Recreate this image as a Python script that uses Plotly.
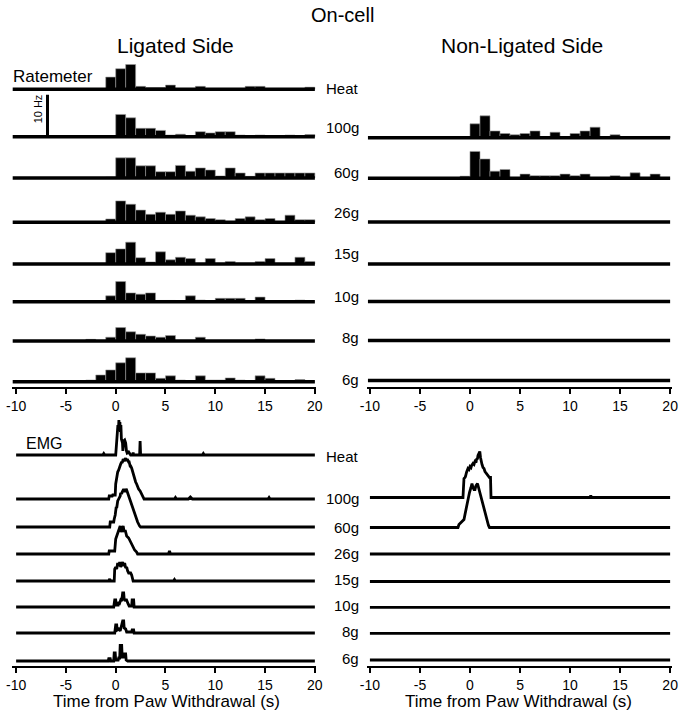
import plotly.graph_objects as go

W, H = 682, 719

# ---------------- data ----------------
bin_left_edges = list(range(-10, 20))          # 1-s ratemeter bins, -10 .. 20 s
tick_vals = [-10, -5, 0, 5, 10, 15, 20]
tick_text = ["-10", "-5", "0", "5", "10", "15", "20"]
stimuli = ["Heat", "100g", "60g", "26g", "15g", "10g", "8g", "6g"]

# Ratemeter (Hz) - ligated side
rate_lig_heat = [0, 0, 0, 0, 0, 0, 0, 0, 0, 2.9, 4.9, 5.9, 0.7, 0.4, 0.4, 1.0, 0, 0, 0.7, 0, 0, 0, 0, 0.7, 0.7, 0, 0, 0, 0, 0.5]
rate_lig_100g = [0, 0, 0, 0, 0, 0, 0, 0, 0, 0, 5.3, 4.5, 2.0, 2.0, 1.5, 0.4, 0.6, 0, 1.2, 0.9, 1.2, 1.2, 0.4, 0, 0.4, 0, 0, 0.4, 0, 0.5]
rate_lig_60g = [0, 0, 0, 0, 0, 0, 0, 0, 0, 0.2, 4.8, 4.8, 2.9, 2.9, 1.5, 1.5, 3.0, 1.6, 2.4, 1.9, 0.5, 2.4, 1.2, 0.4, 1.2, 1.2, 1.2, 1.2, 1.2, 1.2]
rate_lig_26g = [0, 0, 0, 0, 0, 0, 0, 0, 0, 0.8, 5.1, 4.3, 2.9, 1.9, 2.4, 1.9, 2.7, 1.7, 1.3, 0.9, 0.6, 0.2, 0.9, 1.3, 0.6, 0.9, 0.2, 1.7, 0.6, 0.6]
rate_lig_15g = [0, 0, 0, 0, 0, 0, 0, 0, 0, 2.7, 3.6, 5.2, 1.5, 0.5, 2.9, 1.0, 1.6, 1.3, 0, 1.3, 0, 0.6, 0, 0, 0.6, 1.3, 0, 0, 1.6, 0.6]
rate_lig_10g = [0, 0, 0, 0, 0, 0, 0, 0, 0, 1.4, 4.8, 2.1, 1.8, 2.1, 0.3, 0.3, 0, 1.4, 0.4, 0, 0.8, 0.8, 0.8, 0, 1.1, 0, 0, 0, 0.4, 0]
rate_lig_8g = [0, 0, 0, 0, 0, 0, 0, 0.4, 0, 0.9, 3.2, 2.2, 1.6, 1.2, 0.9, 1.3, 0, 0, 0.9, 0, 0, 0, 0, 0, 0.5, 0, 0, 0, 0, 0]
rate_lig_6g = [0, 0, 0, 0, 0, 0, 0, 0.4, 1.6, 2.8, 4.5, 5.7, 2.1, 2.1, 0.8, 1.4, 0.4, 0, 1.4, 0.4, 0.4, 0.9, 0.4, 0, 1.4, 0.8, 0, 0, 0.5, 0]

# Ratemeter (Hz) - non-ligated side (no heat row; 26g..6g silent)
rate_non_100g = [0, 0, 0, 0, 0, 0, 0, 0, 0, 0, 3.3, 5.2, 1.6, 1.0, 0.7, 1.0, 1.6, 0, 1.3, 0, 1.0, 1.6, 2.5, 0, 0.7, 0, 0, 0, 0.3, 0.3]
rate_non_60g = [0, 0, 0, 0, 0, 0, 0, 0, 0, 0.5, 6.4, 4.6, 1.7, 2.1, 0, 1.0, 0.6, 0.6, 0.6, 1.0, 0.6, 1.0, 0, 0, 0.6, 0, 1.3, 0, 1.0, 0]

scale_bar_hz = 10

# EMG envelopes (time s, amplitude a.u.) - ligated side
emg_lig_heat = [(-10, 0), (-1.3, 0), (-1.2, 1.5), (-1.1, 0), (0.0, 0), (0.07, 9), (0.12, 8), (0.17, 20),
                (0.22, 30), (0.27, 24), (0.32, 35), (0.37, 27), (0.42, 33), (0.47, 23), (0.52, 30), (0.57, 16),
                (0.62, 13), (0.68, 12), (0.72, 4), (0.8, 14), (0.9, 15), (1.0, 12), (1.08, 4), (1.15, 2),
                (1.3, 3), (1.4, 1), (1.5, 0), (1.7, 0), (1.75, 2.5), (1.8, 0), (2.4, 0), (2.45, 14), (2.5, 0),
                (8.7, 0), (8.8, 1.5), (8.9, 0), (20, 0)]
emg_lig_100g = [(-10, 0), (-0.7, 0), (-0.65, 3), (-0.35, 3), (-0.3, 4), (-0.05, 4), (0.0, 15), (0.1, 24),
                (0.15, 22), (0.2, 27), (0.3, 29), (0.35, 31), (0.45, 33), (0.5, 35), (0.6, 37), (0.65, 36),
                (0.75, 40), (0.85, 38), (0.9, 39), (1.0, 41), (1.05, 39), (1.2, 39), (1.3, 37), (1.35, 37),
                (1.45, 33), (1.5, 33), (1.6, 31), (1.7, 27), (1.75, 26), (1.85, 24), (2.0, 17), (2.1, 15),
                (2.2, 12), (2.3, 10), (2.45, 8), (2.6, 5), (2.75, 3), (2.85, 0), (5.9, 0), (6.0, 1.5),
                (6.1, 0), (7.3, 0), (7.5, 2), (7.7, 0), (15.3, 0), (15.4, 1.5), (15.5, 0), (20, 0)]
emg_lig_60g = [(-10, 0), (-0.6, 0), (-0.55, 5), (-0.2, 5), (-0.15, 8), (-0.05, 12), (0.05, 20), (0.1, 19),
               (0.2, 26), (0.3, 28), (0.35, 30), (0.45, 31), (0.5, 34), (0.6, 33), (0.65, 35), (0.75, 37),
               (0.8, 38), (0.9, 35), (0.95, 36), (1.05, 38), (1.1, 37), (1.2, 34), (1.25, 33), (1.4, 30),
               (1.55, 25), (1.7, 20), (1.85, 15), (2.0, 10), (2.2, 5), (2.4, 1), (2.5, 0), (20, 0)]
emg_lig_26g = [(-10, 0), (-0.7, 0), (-0.65, 3), (-0.1, 3), (0.0, 15), (0.15, 20), (0.3, 25), (0.45, 28),
               (0.55, 22), (0.65, 26), (0.75, 28), (0.85, 22), (0.95, 24), (1.1, 18), (1.3, 16), (1.5, 12),
               (1.7, 8), (1.9, 4), (2.1, 2), (2.2, 0), (5.3, 0), (5.4, 3), (5.5, 0), (20, 0)]
emg_lig_15g = [(-10, 0), (-0.7, 0), (-0.6, 2), (-0.5, 0), (-0.15, 0), (-0.1, 12), (0.0, 14), (0.1, 12),
               (0.2, 18), (0.3, 15), (0.4, 19), (0.5, 14), (0.6, 17), (0.7, 19), (0.8, 15), (0.9, 18),
               (1.0, 13), (1.1, 14), (1.2, 10), (1.3, 8), (1.5, 8), (1.6, 6), (1.75, 0), (5.8, 0),
               (5.9, 1.5), (6.0, 0), (20, 0)]
emg_lig_10g = [(-10, 0), (-0.2, 0), (-0.1, 7), (0.0, 7), (0.05, 2), (0.25, 2), (0.3, 5), (0.4, 4), (0.5, 7),
               (0.6, 6), (0.7, 14), (0.8, 14), (0.85, 8), (0.95, 6), (1.05, 8), (1.15, 4), (1.25, 3),
               (1.35, 1), (1.6, 1), (1.65, 7), (1.8, 7), (1.85, 0), (20, 0)]
emg_lig_8g = [(-10, 0), (-0.1, 0), (0.0, 8), (0.1, 8), (0.15, 3), (0.3, 4), (0.45, 2), (0.55, 6), (0.7, 12),
              (0.8, 12), (0.85, 5), (1.0, 4), (1.1, 1), (1.6, 1), (1.65, 3), (1.8, 3), (1.85, 0), (20, 0)]
emg_lig_6g = [(-10, 0), (-0.75, 0), (-0.7, 2.3), (-0.55, 2.3), (-0.5, 0), (-0.2, 0), (-0.15, 8), (-0.05, 8),
              (0.0, 1), (0.25, 1), (0.3, 3), (0.4, 3), (0.45, 15.5), (0.6, 15.5), (0.65, 4), (0.8, 4),
              (0.85, 7), (1.0, 7), (1.05, 1), (1.2, 0), (20, 0)]

# EMG envelopes - non-ligated side
emg_non_100g = [(-10, 0), (-0.7, 0), (-0.65, 10), (-0.6, 19), (-0.5, 20), (-0.45, 21), (-0.35, 25),
                (-0.3, 26), (-0.2, 29), (-0.1, 28), (0.0, 31), (0.1, 30), (0.16, 32), (0.3, 34), (0.4, 33),
                (0.5, 36), (0.6, 35), (0.65, 38), (0.75, 39), (0.8, 42), (0.9, 44), (0.98, 46), (1.05, 40),
                (1.14, 34), (1.2, 33), (1.3, 30), (1.4, 29), (1.5, 26), (1.65, 24), (1.8, 21), (1.95, 20),
                (2.05, 20), (2.1, 0), (12.0, 0), (12.07, 2), (12.15, 0), (20, 0)]
emg_non_60g = [(-10, 0), (-1.2, 0), (-1.1, 3), (-0.9, 5), (-0.75, 7), (-0.6, 8), (-0.5, 13), (-0.35, 21),
               (-0.2, 25), (-0.05, 35), (0.1, 40), (0.2, 44), (0.3, 40), (0.4, 38), (0.5, 38), (0.6, 42),
               (0.75, 44), (0.85, 40), (1.0, 33), (1.1, 30), (1.3, 22), (1.5, 16), (1.6, 10), (1.7, 5),
               (1.85, 2), (1.95, 0), (20, 0)]
emg_flat = [(-10, 0), (20, 0)]

rate_lig = [rate_lig_heat, rate_lig_100g, rate_lig_60g, rate_lig_26g, rate_lig_15g, rate_lig_10g, rate_lig_8g, rate_lig_6g]
rate_non = [None, rate_non_100g, rate_non_60g, None, None, None, None, None]
emg_lig = [emg_lig_heat, emg_lig_100g, emg_lig_60g, emg_lig_26g, emg_lig_15g, emg_lig_10g, emg_lig_8g, emg_lig_6g]
emg_non = [None, emg_non_100g, emg_non_60g, emg_flat, emg_flat, emg_flat, emg_flat, emg_flat]

# ---------------- layout constants (pixels) ----------------
RATE_TOP, RATE_BOT, PX_PER_HZ = 55, 387, 4.2
EMG_TOP, EMG_BOT = 405, 666
rate_base_lig = [89.3, 136.7, 178, 222.3, 264, 301.7, 341, 381.7]
rate_base_non = [None, 137.7, 178.3, 222, 264, 301.5, 340.5, 380.5]
emg_base_lig = [455, 499, 527, 554, 581, 607, 633, 661]
emg_base_non = [None, 497.5, 527.5, 554, 581.5, 607.3, 633.3, 660]
rate_label_y = [89, 128, 172, 212, 254, 296, 337, 379]
emg_label_y = [456, 498, 527, 553, 579.5, 605, 631, 658.5]

FONT = "Liberation Sans, Arial, Helvetica, sans-serif"

def px_x(x):
    return x / W

def px_y(y):
    return 1 - y / H

def x_domain(px_m10, px_20, lo, hi):
    pps = (px_20 - px_m10) / 30.0
    return [px_x(px_m10 + (lo + 10) * pps), px_x(px_m10 + (hi + 10) * pps)]

L_RANGE = [-10.4, 20.15]
R_RANGE = [-10.25, 20.15]
L_DOM = x_domain(8.3, 313.3, *L_RANGE)
R_DOM = x_domain(369.5, 676.0, *R_RANGE)

fig = go.Figure()

bin_centers = [b + 0.5 for b in bin_left_edges]

def add_rate_row(vals, base_px, xa, ya, x0):
    base = (RATE_BOT - base_px) / PX_PER_HZ
    if vals is not None:
        fig.add_trace(go.Bar(x=bin_centers, y=vals, base=base, width=1,
                             marker=dict(color="black", line=dict(color="#9a9a9a", width=0.6)),
                             xaxis=xa, yaxis=ya, showlegend=False, hoverinfo="skip"))
    fig.add_trace(go.Scatter(x=[x0, 20], y=[base, base], mode="lines",
                             line=dict(color="black", width=3.5),
                             xaxis=xa, yaxis=ya, showlegend=False, hoverinfo="skip"))

def add_emg_row(pairs, base_px, xa, ya):
    base = EMG_BOT - base_px
    fig.add_trace(go.Scatter(x=[p[0] for p in pairs], y=[base + p[1] for p in pairs], mode="lines",
                             line=dict(color="black", width=2.8),
                             xaxis=xa, yaxis=ya, showlegend=False, hoverinfo="skip"))

for i in range(8):
    add_rate_row(rate_lig[i], rate_base_lig[i], "x", "y", -10.35)
    if rate_base_non[i] is not None:
        add_rate_row(rate_non[i], rate_base_non[i], "x2", "y2", -10.2)
    add_emg_row(emg_lig[i], emg_base_lig[i], "x3", "y3")
    if emg_non[i] is not None:
        add_emg_row(emg_non[i], emg_base_non[i], "x4", "y4")

# 10 Hz scale bar
sb_base = (RATE_BOT - rate_base_lig[1]) / PX_PER_HZ
fig.add_trace(go.Scatter(x=[-6.85, -6.85], y=[sb_base, sb_base + scale_bar_hz], mode="lines",
                         line=dict(color="black", width=3), xaxis="x", yaxis="y",
                         showlegend=False, hoverinfo="skip"))

xcommon = dict(showline=True, linecolor="black", linewidth=1.5, ticks="outside", ticklen=5,
               tickwidth=1.5, tickcolor="black", tickvals=tick_vals, ticktext=tick_text,
               showgrid=False, zeroline=False,
               tickfont=dict(family=FONT, size=14, color="black"), fixedrange=True)
ycommon = dict(visible=False, showgrid=False, zeroline=False, fixedrange=True)

rate_ydom = [px_y(RATE_BOT), px_y(RATE_TOP)]
emg_ydom = [px_y(EMG_BOT), px_y(EMG_TOP)]
rate_yrange = [0, (RATE_BOT - RATE_TOP) / PX_PER_HZ]
emg_yrange = [0, EMG_BOT - EMG_TOP]

fig.update_layout(
    width=W, height=H, margin=dict(l=0, r=0, t=0, b=0),
    paper_bgcolor="white", plot_bgcolor="rgba(0,0,0,0)",
    barmode="overlay", showlegend=False,
    xaxis=dict(domain=L_DOM, range=L_RANGE, anchor="y", **xcommon),
    xaxis2=dict(domain=R_DOM, range=R_RANGE, anchor="y2", **xcommon),
    xaxis3=dict(domain=L_DOM, range=L_RANGE, anchor="y3", **xcommon),
    xaxis4=dict(domain=R_DOM, range=R_RANGE, anchor="y4", **xcommon),
    yaxis=dict(domain=rate_ydom, range=rate_yrange, anchor="x", **ycommon),
    yaxis2=dict(domain=rate_ydom, range=rate_yrange, anchor="x2", **ycommon),
    yaxis3=dict(domain=emg_ydom, range=emg_yrange, anchor="x3", **ycommon),
    yaxis4=dict(domain=emg_ydom, range=emg_yrange, anchor="x4", **ycommon),
)

def note(text, x, y, size, xanchor="center", angle=0):
    fig.add_annotation(text=text, x=px_x(x), y=px_y(y), xref="paper", yref="paper",
                       xanchor=xanchor, yanchor="middle", showarrow=False, textangle=angle,
                       borderpad=0, font=dict(family=FONT, size=size, color="black"))

note("On-cell", 341, 15, 20)
note("Ligated Side", 171, 45, 21)
note("Non-Ligated Side", 525, 45, 21)
note("Ratemeter", 4, 77, 17, xanchor="left")
note("10 Hz", 31, 109, 11, angle=-90)
note("EMG", 17, 443, 16, xanchor="left")
for name, ry, ey in zip(stimuli, rate_label_y, emg_label_y):
    note(name, 359, ry, 15, xanchor="right")
    note(name, 359, ey, 15, xanchor="right")
note("Time from Paw Withdrawal (s)", 162, 701, 17)
note("Time from Paw Withdrawal (s)", 521, 701, 17)

fig.write_html("out.html", config={"displayModeBar": False})

# remove the browser's default page margin so the figure sits at (0, 0)
with open("out.html", "r", encoding="utf-8") as f:
    html = f.read()
html = html.replace("<head>", "<head><style>html,body{margin:0;padding:0;overflow:hidden;}</style>", 1)
with open("out.html", "w", encoding="utf-8") as f:
    f.write(html)
